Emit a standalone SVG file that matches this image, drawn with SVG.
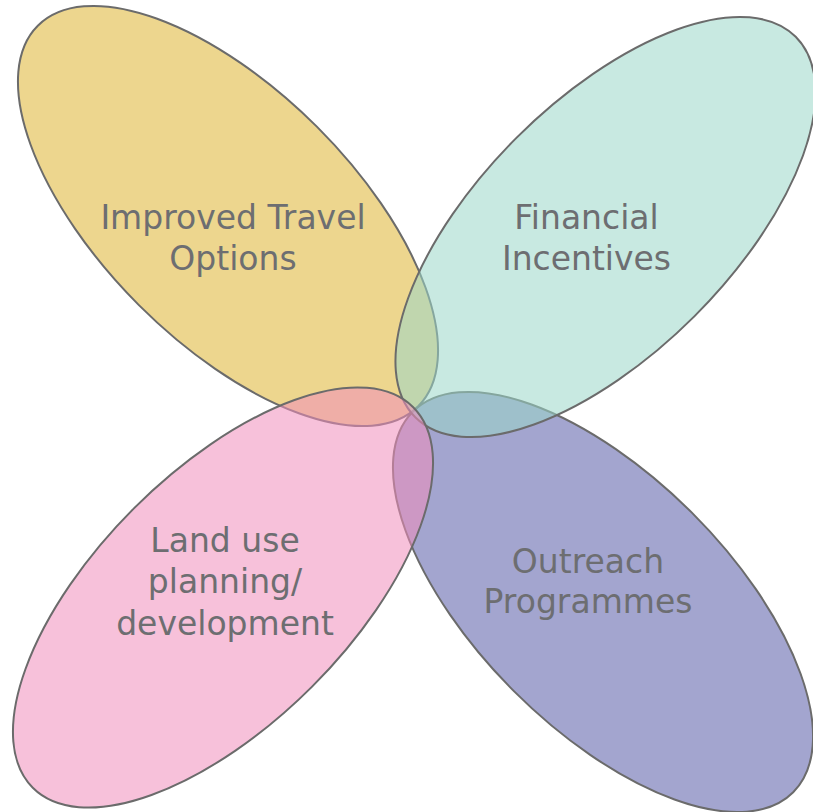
<svg xmlns="http://www.w3.org/2000/svg" width="813" height="812" viewBox="0 0 813 812">
  <style>
    .petal { stroke: #6b6b6b; stroke-width: 2; fill-opacity: 0.55; }
    .label { font-family: "DejaVu Sans", "Liberation Sans", sans-serif; font-size: 33px; fill: #6d6e71; text-anchor: middle; }
  </style>
  <rect width="813" height="812" fill="#ffffff"/>
  <g id="improved-travel-options">
    <ellipse class="petal" cx="228" cy="216" rx="269" ry="126" transform="rotate(45 228 216)" fill="#DEB432"/>
  </g>
  <g id="outreach-programmes">
    <ellipse class="petal" cx="603" cy="602" rx="269" ry="126" transform="rotate(45 603 602)" fill="#585BA8"/>
  </g>
  <g id="financial-incentives">
    <ellipse class="petal" cx="605.5" cy="227" rx="269" ry="126" transform="rotate(-45 605.5 227)" fill="#9BD7C8"/>
  </g>
  <g id="land-use-planning">
    <ellipse class="petal" cx="223" cy="597.5" rx="269" ry="126" transform="rotate(-45 223 597.5)" fill="#F18EBC"/>
  </g>
  <g id="labels">
    <text class="label" x="233" y="229">Improved Travel</text>
    <text class="label" x="233" y="270">Options</text>
    <text class="label" x="586.5" y="229">Financial</text>
    <text class="label" x="586.5" y="270">Incentives</text>
    <text class="label" x="225" y="552">Land use</text>
    <text class="label" x="225" y="593">planning/</text>
    <text class="label" x="225" y="635">development</text>
    <text class="label" x="588" y="573">Outreach</text>
    <text class="label" x="588" y="613">Programmes</text>
  </g>
</svg>
